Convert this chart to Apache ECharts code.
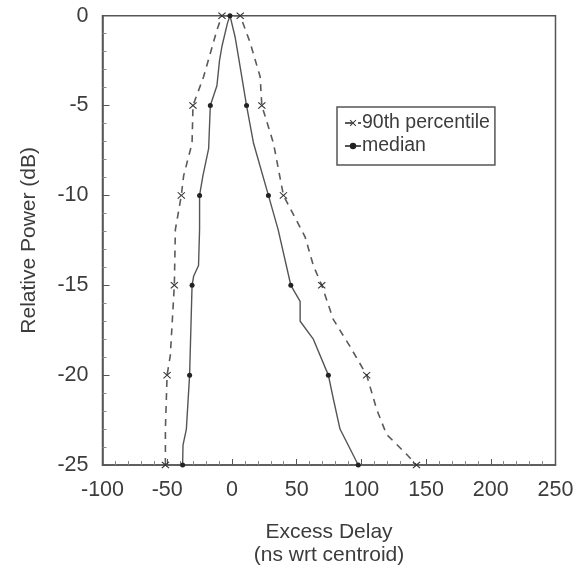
<!DOCTYPE html>
<html>
<head>
<meta charset="utf-8">
<script src="https://cdn.jsdelivr.net/npm/echarts@6/dist/echarts.min.js"></script>
<style>
html,body{margin:0;padding:0;background:#fff;}
#chart{width:582px;height:572px;}
</style>
</head>
<body>
<div id="chart"></div>
<script>
// Tick settings
const xTicks = [-100, -50, 0, 50, 100, 150, 200, 250];
const yTicks = [-25, -20, -15, -10, -5, 0];

// 90th percentile profile (excess delay ns, relative power dB), traced left-bottom -> peak -> right-bottom
const p90Delay = [-51.4, -51.4, -50.1, -47.6, -44.5, -43.7, -39.1, -37.3, -30.8, -30.1, -21.9, -11.6, -7.7,
                  6.4, 14.1, 21.8, 23.1, 32.1, 39.8, 56.5, 62.9, 69.4, 78.3, 91.2, 104.1, 111.8, 119.5, 134.9, 142.6];
const p90Power = [-25, -23.0, -20, -18.9, -15, -11.9, -10, -8.9, -7.1, -5, -3.4, -0.8, 0,
                  0, -1.5, -3.4, -5, -7.1, -10, -12.3, -13.9, -15, -16.9, -18.4, -20, -21.9, -23.3, -24.4, -25];

// Median profile
const medDelay = [-38.1, -37.8, -35.2, -32.7, -30.8, -29.6, -25.8, -25.0, -25.0, -22.4, -18.0, -16.7, -11.6, -9.6, -7.7, -3.4, -1.5,
                  2.5, 5.1, 11.3, 16.7, 28.2, 35.7, 45.5, 52.7, 52.7, 62.9, 74.5, 78.3, 83.5, 97.6];
const medPower = [-25, -23.9, -23.0, -20, -15, -14.5, -13.9, -11.9, -10, -8.9, -7.4, -5, -3.9, -2.5, -1.7, -0.4, 0,
                  -1.2, -2.3, -5, -7.1, -10, -11.9, -15, -15.9, -17.0, -18.0, -20, -21.3, -23.0, -25];

const seriesNames = ['90th percentile', 'median'];

// markers only at the 5 dB levels
function toData(xs, ys) {
  return xs.map((x, i) => {
    const marked = Math.abs(ys[i] % 5) < 1e-9;
    return marked ? {value: [x, ys[i]]} : {value: [x, ys[i]], symbol: 'none'};
  });
}

const xSymbol = 'path://M0,1L1,0L5,4L9,0L10,1L6,5L10,9L9,10L5,6L1,10L0,9L4,5Z';
const ink = '#3c3c3c';
const lineCol = '#555';
const font = '"Liberation Sans", Arial, Helvetica, sans-serif';

const chart = echarts.init(document.getElementById('chart'), null, {renderer: 'canvas'});
chart.setOption({
  animation: false,
  backgroundColor: '#fff',
  textStyle: {fontFamily: font, color: ink},
  grid: {left: 102.5, right: 26.5, top: 15.7, bottom: 105.3, show: true, borderColor: lineCol, borderWidth: 1.5, backgroundColor: 'transparent'},
  legend: {
    orient: 'vertical',
    left: 337, top: 107,
    data: seriesNames,
    borderColor: lineCol, borderWidth: 1.5,
    padding: [6, 5, 9, 7],
    itemGap: 3,
    itemWidth: 16, itemHeight: 8,
    textStyle: {fontSize: 19.5, color: ink, fontFamily: font, padding: [0, 0, 0, -4]}
  },
  xAxis: {
    type: 'value', min: xTicks[0], max: xTicks[xTicks.length - 1], interval: 50,
    name: 'Excess Delay\n(ns wrt centroid)', nameLocation: 'middle', nameGap: 56,
    nameTextStyle: {fontSize: 21, color: ink, lineHeight: 23, fontFamily: font},
    axisLine: {show: true, onZero: false, lineStyle: {color: lineCol, width: 1.5}},
    axisTick: {show: true, inside: true, length: 6, lineStyle: {color: lineCol}},
    minorTick: {show: true, splitNumber: 5, length: 4, lineStyle: {color: '#888'}},
    splitLine: {show: false},
    axisLabel: {fontSize: 21.5, color: ink, margin: 14, fontFamily: font}
  },
  yAxis: {
    type: 'value', min: yTicks[0], max: yTicks[yTicks.length - 1], interval: 5,
    name: 'Relative Power (dB)', nameLocation: 'middle', nameGap: 63,
    nameTextStyle: {fontSize: 21, color: ink, fontFamily: font},
    axisLine: {show: true, onZero: false, lineStyle: {color: lineCol, width: 1.5}},
    axisTick: {show: true, inside: true, length: 7, lineStyle: {color: lineCol}},
    minorTick: {show: true, splitNumber: 5, length: 4, lineStyle: {color: '#888'}},
    splitLine: {show: false},
    axisLabel: {fontSize: 21.5, color: ink, margin: 14, fontFamily: font}
  },
  series: [
    {
      name: seriesNames[0], type: 'line',
      data: toData(p90Delay, p90Power),
      symbol: xSymbol, symbolSize: [8, 7], showSymbol: true,
      lineStyle: {color: '#5a5a5a', width: 1.6, type: [7, 6]},
      itemStyle: {color: '#333'},
      z: 3
    },
    {
      name: seriesNames[1], type: 'line',
      data: toData(medDelay, medPower),
      symbol: 'circle', symbolSize: 5, showSymbol: true,
      lineStyle: {color: '#555', width: 1.4},
      itemStyle: {color: '#222'},
      z: 4
    }
  ]
});
</script>
</body>
</html>
